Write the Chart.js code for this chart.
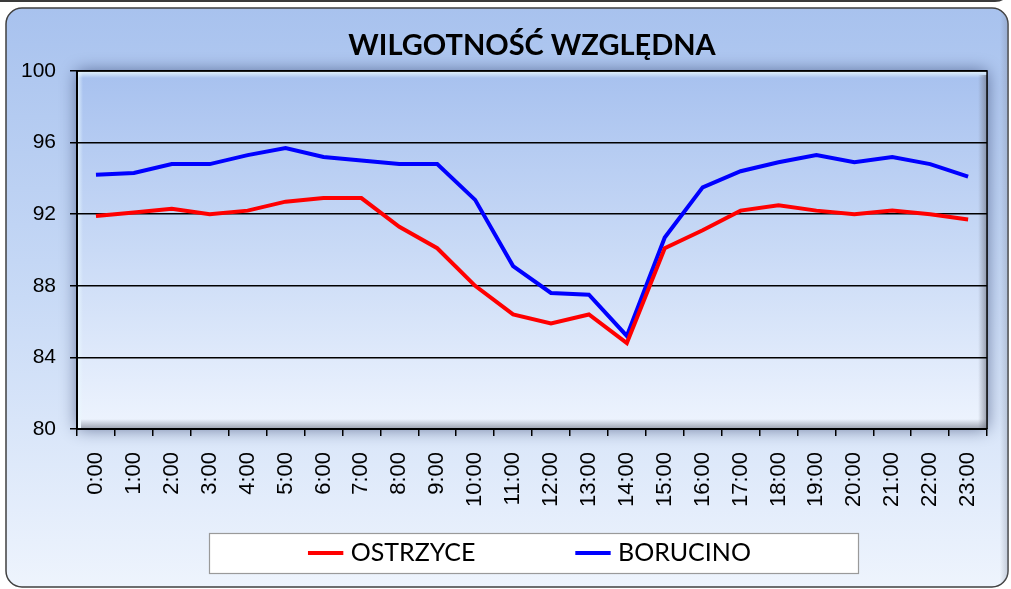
<!DOCTYPE html>
<html>
<head>
<meta charset="utf-8">
<script src="https://cdn.jsdelivr.net/npm/chart.js@4/dist/chart.umd.min.js"></script>
<style>
  html, body { margin: 0; padding: 0; background: #ffffff; }
  #wrap { width: 1011px; height: 589px; position: relative; }
</style>
</head>
<body>
<div id="wrap"><canvas id="c" width="1011" height="589"></canvas></div>
<script>
const chartTitle = 'WILGOTNOŚĆ WZGLĘDNA';
const hours = ['0:00','1:00','2:00','3:00','4:00','5:00','6:00','7:00','8:00','9:00','10:00','11:00',
               '12:00','13:00','14:00','15:00','16:00','17:00','18:00','19:00','20:00','21:00','22:00','23:00'];
const seriesNames = ['OSTRZYCE', 'BORUCINO'];
const ostrzyce = [91.9, 92.1, 92.3, 92.0, 92.2, 92.7, 92.9, 92.9, 91.3, 90.1, 88.0, 86.4,
                  85.9, 86.4, 84.8, 90.1, 91.1, 92.2, 92.5, 92.2, 92.0, 92.2, 92.0, 91.7];
const borucino = [94.2, 94.3, 94.8, 94.8, 95.3, 95.7, 95.2, 95.0, 94.8, 94.8, 92.8, 89.1,
                  87.6, 87.5, 85.2, 90.7, 93.5, 94.4, 94.9, 95.3, 94.9, 95.2, 94.8, 94.1];
const yMin = 80, yMax = 100, yStep = 4;

const TICK_FONT = "'Liberation Sans', Arial, Helvetica, sans-serif";
const LEGEND_PAD = 105;
const LEGEND_TEXT_Y = 553;

const backdrop = {
  id: 'backdrop',
  afterLayout(chart) {
    const lg = chart.legend;
    if (lg) {
      const fs = lg.options.labels.font.size;
      lg.top = LEGEND_TEXT_Y - LEGEND_PAD - fs / 2;
      lg.height = 2 * LEGEND_PAD + fs + 10;
      lg.bottom = lg.top + lg.height;
    }
  },
  beforeDraw(chart) {
    const ctx = chart.ctx;
    const a = chart.chartArea;
    ctx.save();
    ctx.fillStyle = '#ffffff';
    ctx.fillRect(0, 0, chart.width, chart.height);
    ctx.strokeStyle = '#3a3a3a';
    ctx.lineWidth = 2;
    ctx.beginPath();
    ctx.moveTo(0, 1); ctx.lineTo(995, 1);
    ctx.quadraticCurveTo(1003, 1, 1005, -4);
    ctx.stroke();
    const ox = 6, oy = 8, ow = 1002, oh = 579, r = 16;
    const g = ctx.createLinearGradient(0, oy, 0, oy + oh);
    g.addColorStop(0, '#a8c2ee');
    g.addColorStop(0.5, '#c8daf6');
    g.addColorStop(1, '#eef4fd');
    ctx.beginPath();
    ctx.roundRect(ox, oy, ow, oh, r);
    ctx.fillStyle = g;
    ctx.fill();
    ctx.lineWidth = 1.5;
    ctx.strokeStyle = '#404040';
    ctx.stroke();
    const gr = ctx.createLinearGradient(ox + ow - 8, 0, ox + ow, 0);
    gr.addColorStop(0, 'rgba(120,130,150,0)');
    gr.addColorStop(1, 'rgba(120,130,150,0.35)');
    ctx.save();
    ctx.beginPath(); ctx.roundRect(ox, oy, ow, oh, r); ctx.clip();
    ctx.fillStyle = gr;
    ctx.fillRect(ox + ow - 8, oy, 8, oh);
    ctx.restore();

    const w = a.right - a.left, h = a.bottom - a.top;
    const pg = ctx.createLinearGradient(0, a.top, 0, a.bottom);
    pg.addColorStop(0, '#a7c1ef');
    pg.addColorStop(0.5, '#c9daf6');
    pg.addColorStop(1, '#eef4fe');
    ctx.save();
    ctx.shadowColor = 'rgba(30,45,90,0.6)';
    ctx.shadowBlur = 16;
    ctx.fillStyle = pg;
    ctx.fillRect(a.left, a.top, w, h);
    ctx.restore();
    let b = ctx.createLinearGradient(0, a.top, 0, a.top + 7);
    b.addColorStop(0, 'rgba(235,250,255,0.95)');
    b.addColorStop(1, 'rgba(235,250,255,0)');
    ctx.fillStyle = b; ctx.fillRect(a.left, a.top, w, 7);
    b = ctx.createLinearGradient(a.left, 0, a.left + 6, 0);
    b.addColorStop(0, 'rgba(235,250,255,0.8)');
    b.addColorStop(1, 'rgba(235,250,255,0)');
    ctx.fillStyle = b; ctx.fillRect(a.left, a.top, 6, h);
    b = ctx.createLinearGradient(0, a.bottom - 10, 0, a.bottom);
    b.addColorStop(0, 'rgba(110,115,130,0)');
    b.addColorStop(1, 'rgba(110,115,130,0.65)');
    ctx.fillStyle = b; ctx.fillRect(a.left + 4, a.bottom - 10, w - 4, 10);
    b = ctx.createLinearGradient(a.right - 9, 0, a.right, 0);
    b.addColorStop(0, 'rgba(110,115,130,0)');
    b.addColorStop(1, 'rgba(110,115,130,0.65)');
    ctx.fillStyle = b; ctx.fillRect(a.right - 9, a.top + 4, 9, h - 4);

    ctx.fillStyle = '#ffffff';
    ctx.fillRect(209.5, 533.5, 649, 40);
    ctx.strokeStyle = '#9a9a9a';
    ctx.lineWidth = 1.2;
    ctx.strokeRect(209.5, 533.5, 649, 40);
    ctx.restore();
  },
  beforeDatasetsDraw(chart) {
    const ctx = chart.ctx, a = chart.chartArea;
    ctx.save();
    ctx.strokeStyle = '#000000';
    ctx.lineWidth = 1.5;
    ctx.beginPath();
    ctx.moveTo(a.left, a.top); ctx.lineTo(a.right, a.top); ctx.lineTo(a.right, a.bottom);
    ctx.stroke();
    ctx.restore();
  }
};

new Chart(document.getElementById('c'), {
  type: 'line',
  data: {
    labels: hours,
    datasets: [
      { label: seriesNames[0], data: ostrzyce, borderColor: '#ff0000', backgroundColor: '#ff0000',
        borderWidth: 4, pointRadius: 0, tension: 0, fill: false },
      { label: seriesNames[1], data: borucino, borderColor: '#0000ff', backgroundColor: '#0000ff',
        borderWidth: 4, pointRadius: 0, tension: 0, fill: false }
    ]
  },
  options: {
    responsive: false,
    animation: false,
    devicePixelRatio: 1,
    layout: { padding: { left: 0, right: 17, top: 0, bottom: 40 } },
    plugins: {
      title: {
        display: true,
        fullSize: false,
        text: chartTitle,
        color: '#000000',
        font: { family: 'Lato', size: 29, weight: 'bold', lineHeight: 1.2 },
        padding: { top: 28, bottom: 8.2 }
      },
      legend: {
        display: true,
        position: 'bottom',
        fullSize: false,
        maxHeight: 20,
        labels: {
          color: '#000000',
          font: { family: 'Lato', size: 25 },
          usePointStyle: true,
          pointStyle: 'line',
          padding: LEGEND_PAD
        }
      },
      tooltip: { enabled: false }
    },
    scales: {
      x: {
        type: 'category',
        offset: true,
        afterFit(scale) { scale.height = 100; },
        grid: { display: true, offset: true, drawOnChartArea: false, drawTicks: true,
                tickLength: 7, color: '#000000', lineWidth: 1.5 },
        border: { display: true, color: '#000000', width: 2 },
        ticks: { autoSkip: false, minRotation: 90, maxRotation: 90, padding: 16,
                 color: '#000000', font: { family: TICK_FONT, size: 22 } }
      },
      y: {
        min: yMin, max: yMax,
        afterFit(scale) { scale.width = 77; },
        grid: { color: '#000000', lineWidth: 1.5, drawTicks: true, tickLength: 7 },
        border: { display: true, color: '#000000', width: 2 },
        ticks: { stepSize: yStep, padding: 14, color: '#000000',
                 font: { family: TICK_FONT, size: 21 } }
      }
    }
  },
  plugins: [backdrop]
});
</script>
</body>
</html>
